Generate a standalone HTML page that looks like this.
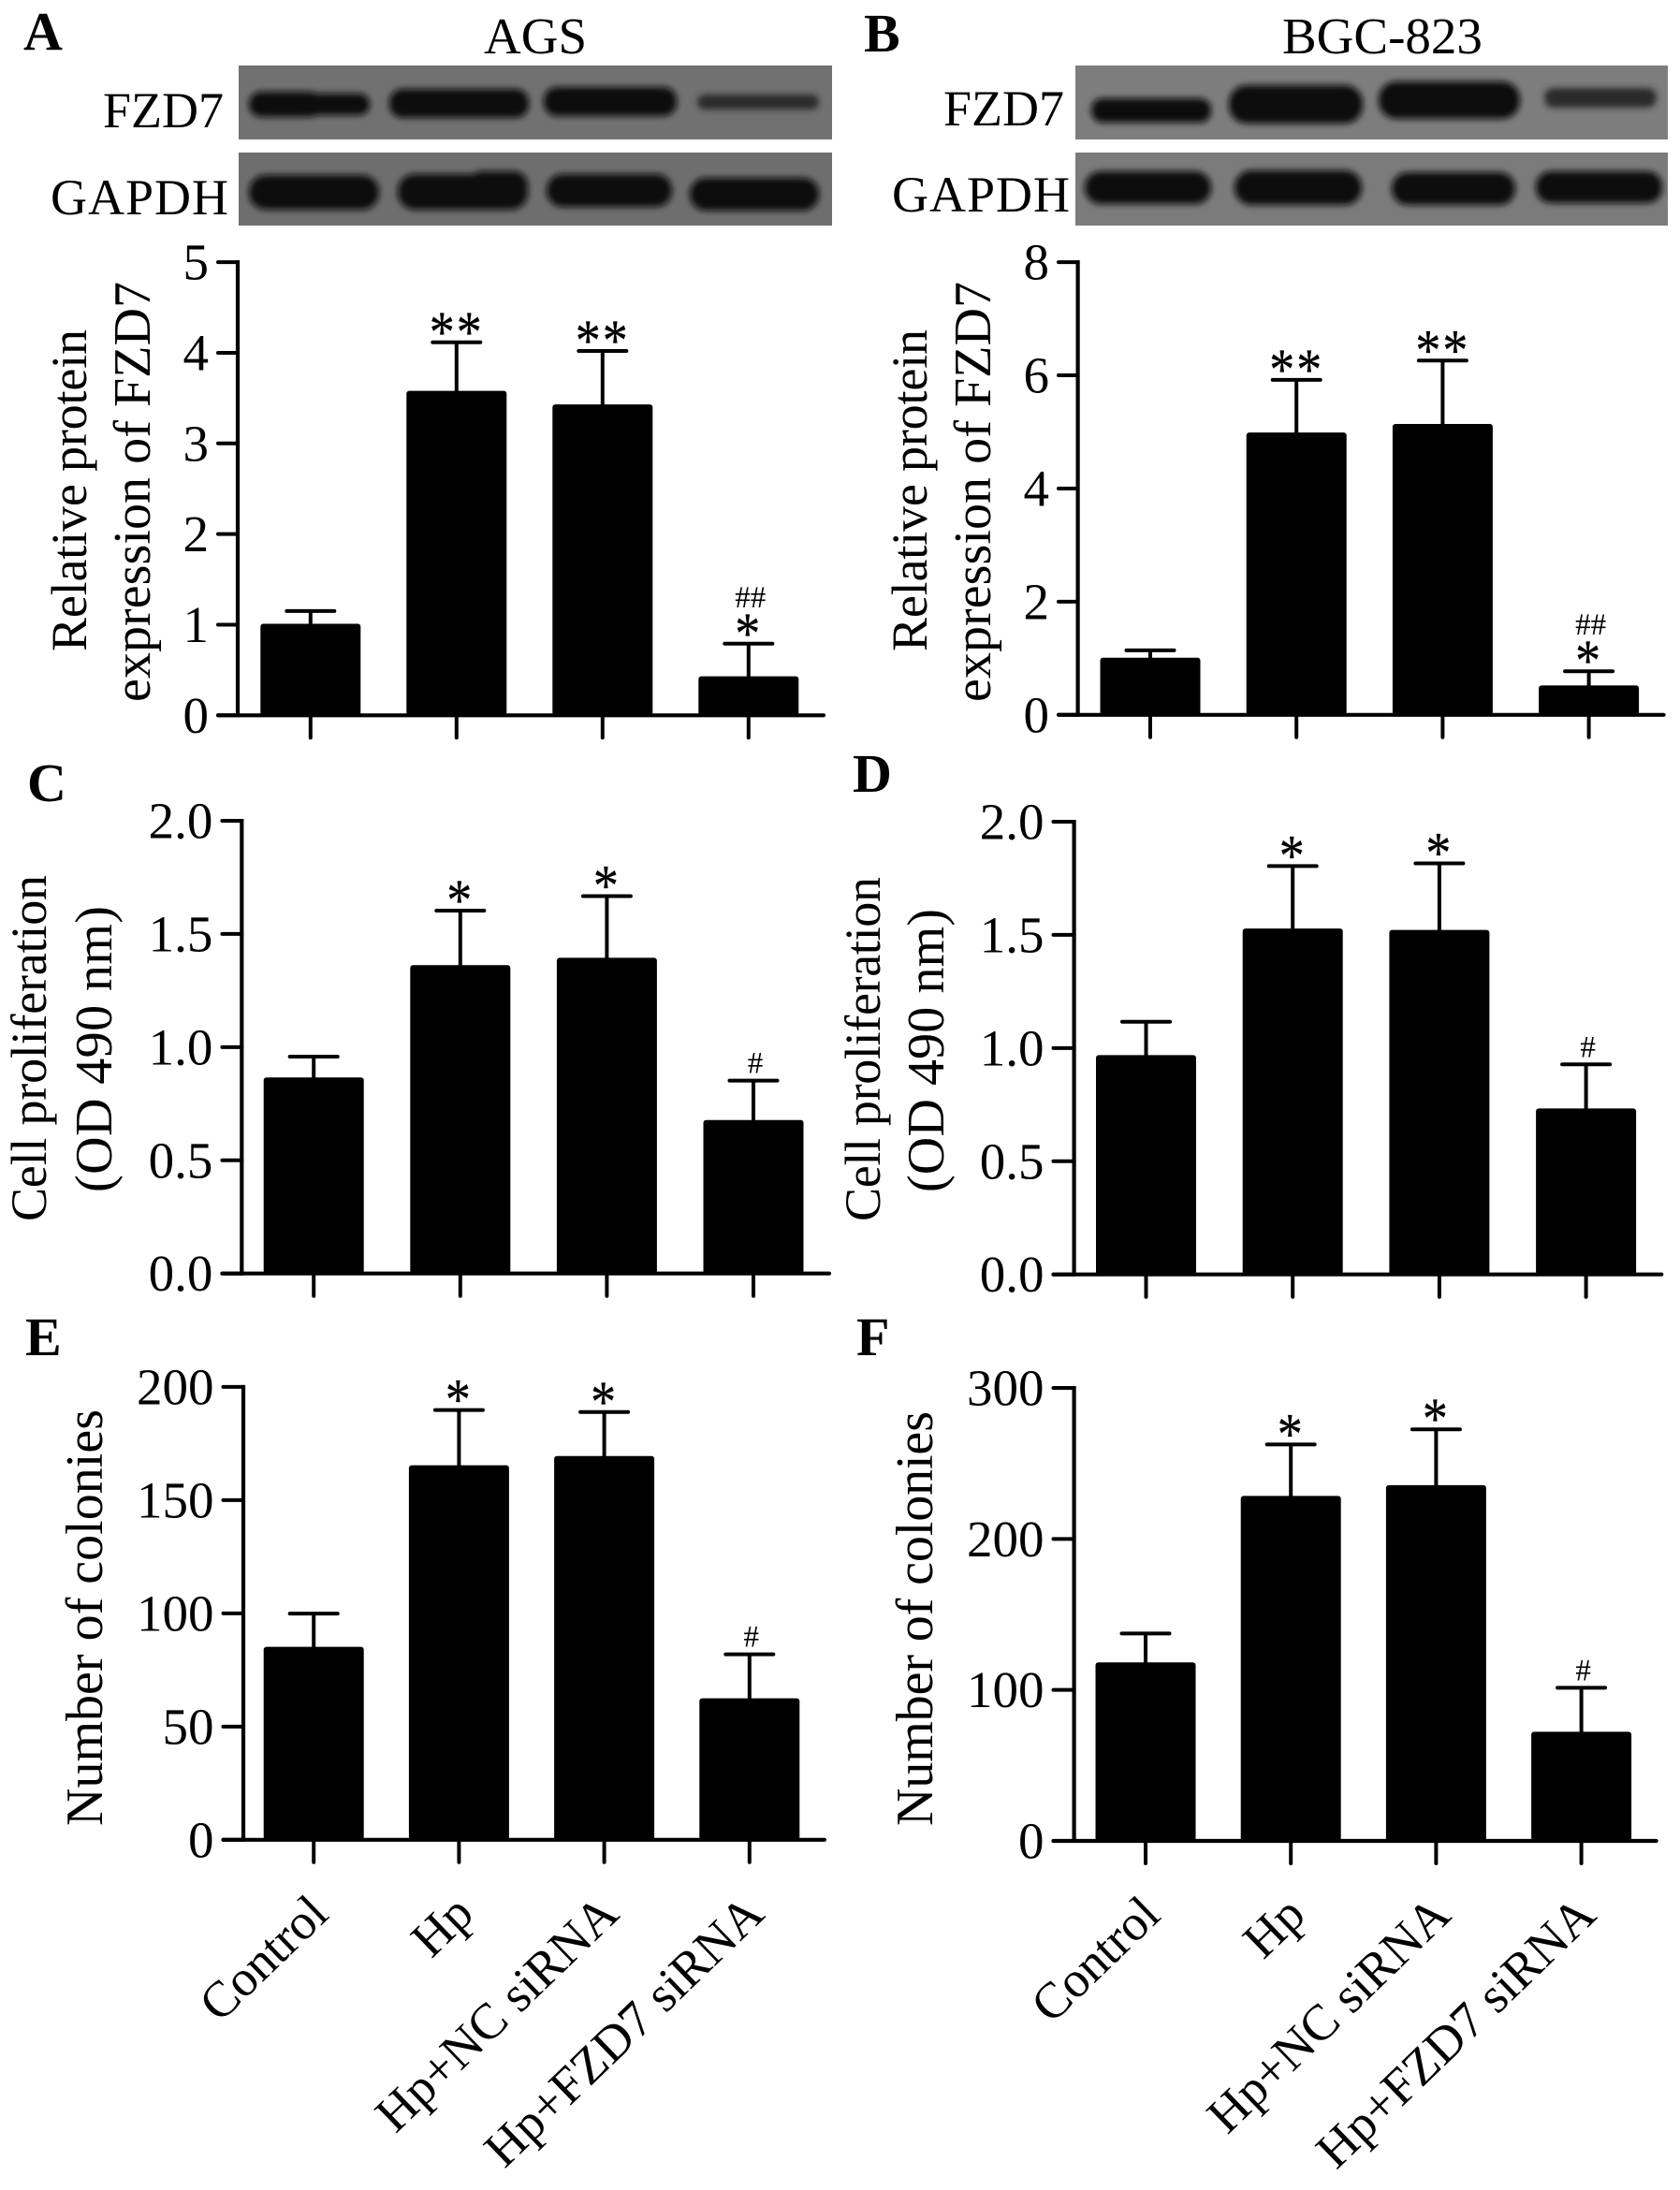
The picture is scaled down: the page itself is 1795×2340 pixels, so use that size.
<!DOCTYPE html>
<html lang="en">
<head>
<meta charset="utf-8">
<title>FZD7 expression, proliferation and colony formation in AGS and BGC-823 cells</title>
<style>
html,body{margin:0;padding:0;background:#fff;width:1795px;height:2340px;overflow:hidden}
svg{display:block}
text{font-family:"Liberation Serif",serif;fill:#000}
.big{font-size:54px}
.letter{font-size:58px;font-weight:bold}
.band{fill:#0b0b0b;filter:url(#blur)}
.band-merged{fill:#0b0b0b}
.band-group{filter:url(#blur)}
.band-light{fill:#2c2c2c;filter:url(#blur)}
</style>
</head>
<body>
<svg id="figure" xmlns="http://www.w3.org/2000/svg" width="1795" height="2340" viewBox="0 0 1795 2340">
  <defs>
    <filter id="blur" x="-20%" y="-60%" width="140%" height="220%"><feGaussianBlur stdDeviation="3.5"/></filter>
  </defs>
  <rect width="1795" height="2340" fill="#fff"/>

  <text class="letter" x="25" y="53">A</text>
  <text class="letter" x="923" y="55">B</text>
  <text class="letter" x="29" y="856">C</text>
  <text class="letter" x="911" y="846">D</text>
  <text class="letter" x="27" y="1448">E</text>
  <text class="letter" x="915" y="1448">F</text>

  <text class="big" style="font-size:55px" x="517" y="57">AGS</text>
  <text class="big" style="font-size:55px" x="1370" y="57">BGC-823</text>

  <text class="big" x="110" y="136">FZD7</text>
  <text class="big" x="54" y="229" textLength="190">GAPDH</text>
  <text class="big" x="1008" y="134">FZD7</text>
  <text class="big" x="953" y="226" textLength="190">GAPDH</text>

  <g>
    <rect x="255" y="70" width="634" height="79" fill="#717171"/>
    <g class="band-group">
      <rect class="band-merged" x="266" y="98" width="78" height="27" rx="13"/>
      <rect class="band-merged" x="318" y="100" width="77" height="23" rx="11"/>
    </g>
    <rect class="band" x="416" y="95" width="149" height="31" rx="14"/>
    <rect class="band" x="581" y="93" width="142" height="31" rx="14"/>
    <rect class="band-light" x="745" y="101" width="130" height="16" rx="8"/>
  </g>
  <g>
    <rect x="255" y="163" width="634" height="78" fill="#6e6e6e"/>
    <rect class="band" x="266" y="187" width="139" height="37" rx="18"/>
    <g class="band-group">
      <rect class="band-merged" x="425" y="186" width="139" height="38" rx="18"/>
      <rect class="band-merged" x="500" y="183" width="64" height="30" rx="15"/>
    </g>
    <rect class="band" x="584" y="186" width="134" height="35" rx="17"/>
    <rect class="band" x="737" y="190" width="138" height="35" rx="17"/>
  </g>
  <g>
    <rect x="1149" y="70" width="633" height="79" fill="#7d7d7d"/>
    <rect class="band" x="1166" y="105" width="128" height="26" rx="12"/>
    <rect class="band" x="1313" y="91" width="143" height="41" rx="19"/>
    <rect class="band" x="1473" y="87" width="151" height="40" rx="19"/>
    <rect class="band-light" x="1650" y="94" width="120" height="21" rx="10"/>
  </g>
  <g>
    <rect x="1149" y="163" width="633" height="78" fill="#7b7b7b"/>
    <rect class="band" x="1159" y="183" width="135" height="35" rx="17"/>
    <rect class="band" x="1319" y="182" width="136" height="37" rx="18"/>
    <rect class="band" x="1487" y="184" width="132" height="35" rx="17"/>
    <rect class="band" x="1641" y="183" width="135" height="34" rx="16"/>
  </g>

  <text class="big" transform="translate(92,696) rotate(-90)" textLength="344">Relative protein</text>
  <text class="big" style="font-size:56px" transform="translate(160,750) rotate(-90)" textLength="449">expression of FZD7</text>
  <text class="big" transform="translate(990,696) rotate(-90)" textLength="344">Relative protein</text>
  <text class="big" style="font-size:56px" transform="translate(1058,750) rotate(-90)" textLength="449">expression of FZD7</text>
  <text class="big" transform="translate(49,1305) rotate(-90)" textLength="370">Cell proliferation</text>
  <text class="big" style="font-size:56px" transform="translate(119,1274) rotate(-90)" textLength="306">(OD 490 nm)</text>
  <text class="big" transform="translate(940,1305) rotate(-90)" textLength="368">Cell proliferation</text>
  <text class="big" style="font-size:56px" transform="translate(1008,1274) rotate(-90)" textLength="303">(OD 490 nm)</text>
  <text class="big" style="font-size:56px" transform="translate(109,1951) rotate(-90)" textLength="445">Number of colonies</text>
  <text class="big" style="font-size:56px" transform="translate(996,1951) rotate(-90)" textLength="443">Number of colonies</text>

  <g id="charts"></g>
</svg>

<script>
// ---- chart data ----
const categories = ['Control', 'Hp', 'Hp+NC siRNA', 'Hp+FZD7 siRNA'];

const ticksA = ['0', '1', '2', '3', '4', '5'];
const meansA = [1.01, 3.58, 3.43, 0.43];
const errTopA = [1.15, 4.115, 4.02, 0.79];
const starsA = ['', '**', '**', '*'];
const hashesA = ['', '', '', '##'];

const ticksB = ['0', '2', '4', '6', '8'];
const meansB = [1.01, 4.99, 5.14, 0.52];
const errTopB = [1.14, 5.92, 6.26, 0.77];
const starsB = ['', '**', '**', '*'];
const hashesB = ['', '', '', '##'];

const ticksC = ['0.0', '0.5', '1.0', '1.5', '2.0'];
const meansC = [0.866, 1.362, 1.395, 0.678];
const errTopC = [0.958, 1.603, 1.667, 0.852];
const starsC = ['', '*', '*', ''];
const hashesC = ['', '', '', '#'];

const ticksD = ['0.0', '0.5', '1.0', '1.5', '2.0'];
const meansD = [0.969, 1.528, 1.522, 0.733];
const errTopD = [1.116, 1.804, 1.816, 0.928];
const starsD = ['', '*', '*', ''];
const hashesD = ['', '', '', '#'];

const ticksE = ['0', '50', '100', '150', '200'];
const meansE = [85.2, 165.4, 169.5, 62.5];
const errTopE = [99.9, 189.8, 188.9, 81.9];
const starsE = ['', '*', '*', ''];
const hashesE = ['', '', '', '#'];

const ticksF = ['0', '100', '200', '300'];
const meansF = [118.2, 228.5, 235.6, 72.3];
const errTopF = [137.4, 262.6, 272.6, 101.4];
const starsF = ['', '*', '*', ''];
const hashesF = ['', '', '', '#'];

// ---- rendering ----
const NS = 'http://www.w3.org/2000/svg';
const root = document.getElementById('charts');

function make(tag, parent, attrs, text) {
  const el = document.createElementNS(NS, tag);
  for (const k in attrs) el.setAttribute(k, attrs[k]);
  if (text !== undefined) el.textContent = text;
  parent.appendChild(el);
  return el;
}

function drawPanel(p) {
  const maxTick = parseFloat(p.ticks[p.ticks.length - 1]);
  const yScale = v => p.y0 - (v / maxTick) * (p.y0 - p.yTop);
  const xScale = i => p.first + i * p.step;
  const barW = 107, capW = 55;

  const g = make('g', root, {});
  
  

  p.means.forEach((m, i) => {
    const cx = xScale(i);
    const top = yScale(m);
    const errY = yScale(p.errTop[i]);

    const stem = make('line', g, { x1: cx, x2: cx, y1: errY, y2: top + 1, stroke: '#000', 'stroke-width': 4 });
    
    

    const cap = make('line', g, { x1: cx - capW / 2 + 2, x2: cx + capW / 2 - 2, y1: errY, y2: errY, stroke: '#000', 'stroke-width': 4, 'stroke-linecap': 'round' });
    
    

    const bar = make('rect', g, { x: cx - barW / 2, y: top, width: barW, height: p.y0 - top, rx: 3, fill: '#000' });
    
    

    const tick = make('line', g, { x1: cx, x2: cx, y1: p.y0, y2: p.y0 + 24, stroke: '#000', 'stroke-width': 4, 'stroke-linecap': 'round' });
    
    

    if (p.stars[i]) {
      const s = make('text', g, { transform: 'translate(' + cx + ',' + (errY + 9.5) + ') scale(1,1.15)', 'text-anchor': 'middle', 'font-size': 54, stroke: '#000', 'stroke-width': 0.3, 'letter-spacing': 2 }, p.stars[i]);
      
      
    }
    if (p.hashes[i]) {
      const hashY = p.stars[i] ? errY - 39 : errY - 8;
      const h = make('text', g, { x: cx + 2, y: hashY, 'text-anchor': 'middle', 'font-size': 33 }, p.hashes[i]);
      
      
    }

    if (p.showCategories) {
      const lx = cx + 18;
      const ly = p.y0 + 82;
      const lab = make('text', g, { transform: 'translate(' + lx + ',' + ly + ') rotate(-44)', 'text-anchor': 'end', 'font-size': 54 }, categories[i]);
      
      
    }
  });

  const yAxis = make('line', g, { x1: p.x0, x2: p.x0, y1: p.yTop - 2, y2: p.y0 + 2, stroke: '#000', 'stroke-width': 4.2 });
  
  

  const xAxis = make('line', g, { x1: p.tickLeft + 2, x2: p.xRight - 2, y1: p.y0, y2: p.y0, stroke: '#000', 'stroke-width': 4.2, 'stroke-linecap': 'round' });
  
  

  p.ticks.forEach(t => {
    const y = yScale(parseFloat(t));
    const tl = make('line', g, { x1: p.tickLeft + 2, x2: p.x0, y1: y, y2: y, stroke: '#000', 'stroke-width': 4, 'stroke-linecap': 'round' });
    
    

    const lab = make('text', g, { x: p.tickLeft - 8, y: y + 18.5, 'text-anchor': 'end', 'font-size': 55 }, t);
    
    
  });
}

drawPanel({ id: 'a', ticks: ticksA, means: meansA, errTop: errTopA, stars: starsA, hashes: hashesA,
  x0: 254, tickLeft: 231, xRight: 882, y0: 764.3, yTop: 280.1, first: 331.8, step: 156, showCategories: false });
drawPanel({ id: 'b', ticks: ticksB, means: meansB, errTop: errTopB, stars: starsB, hashes: hashesB,
  x0: 1151.6, tickLeft: 1129, xRight: 1779.6, y0: 763.8, yTop: 280.1, first: 1229, step: 156.2, showCategories: false });
drawPanel({ id: 'c', ticks: ticksC, means: meansC, errTop: errTopC, stars: starsC, hashes: hashesC,
  x0: 258.3, tickLeft: 235.4, xRight: 888, y0: 1360.7, yTop: 877, first: 335.2, step: 156.6, showCategories: false });
drawPanel({ id: 'd', ticks: ticksD, means: meansD, errTop: errTopD, stars: starsD, hashes: hashesD,
  x0: 1147.6, tickLeft: 1123.5, xRight: 1777.3, y0: 1361.7, yTop: 878, first: 1224.5, step: 156.7, showCategories: false });
drawPanel({ id: 'e', ticks: ticksE, means: meansE, errTop: errTopE, stars: starsE, hashes: hashesE,
  x0: 260, tickLeft: 236.5, xRight: 882.9, y0: 1965.8, yTop: 1481.9, first: 335.2, step: 155.2, showCategories: true });
drawPanel({ id: 'f', ticks: ticksF, means: meansF, errTop: errTopF, stars: starsF, hashes: hashesF,
  x0: 1147.6, tickLeft: 1123.5, xRight: 1771.6, y0: 1967, yTop: 1483, first: 1224, step: 155.2, showCategories: true });
</script>
</body>
</html>
